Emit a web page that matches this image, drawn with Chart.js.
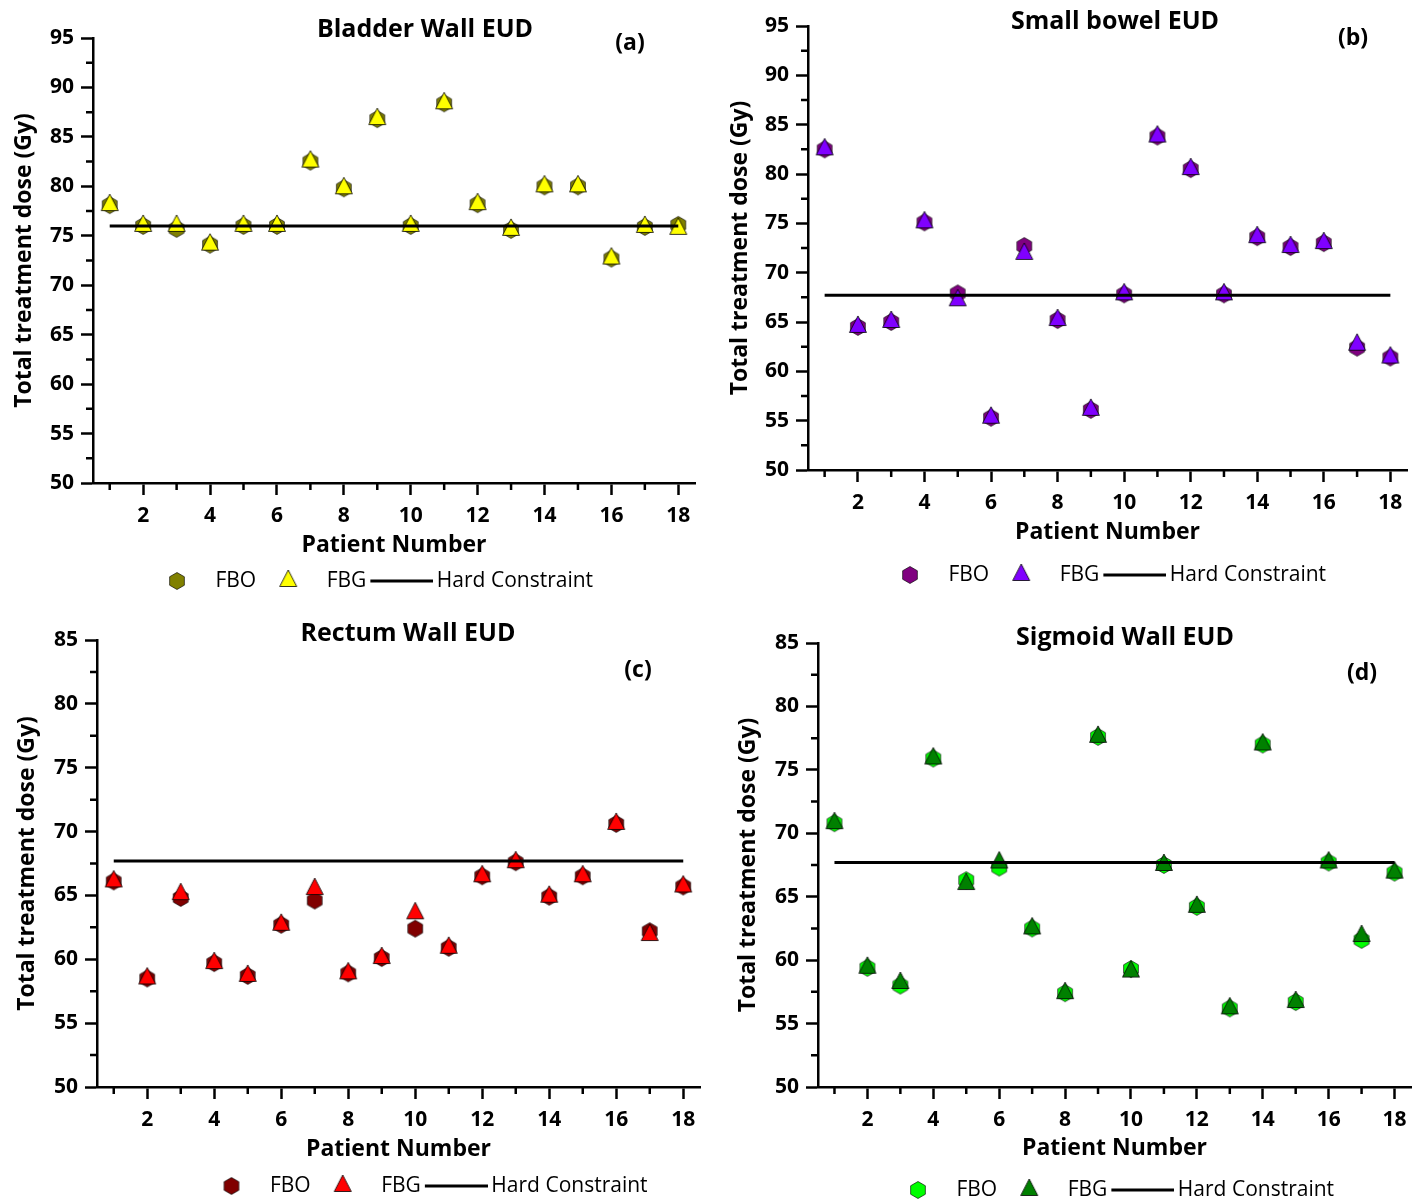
<!DOCTYPE html>
<html>
<head>
<meta charset="utf-8">
<title>EUD per patient</title>
<script src="https://cdn.jsdelivr.net/npm/chart.js@4"></script>
<style>
  html, body { margin: 0; padding: 0; background: #fff; overflow: hidden; width: 1421px; height: 1201px; }
  .panel { position: absolute; width: 710px; height: 620px; }
</style>
</head>
<body>
<div class="panel" style="left:0px;top:0px"><canvas id="chartA"></canvas></div>
<div class="panel" style="left:711px;top:0px"><canvas id="chartB"></canvas></div>
<div class="panel" style="left:0px;top:600px"><canvas id="chartC"></canvas></div>
<div class="panel" style="left:711px;top:600px"><canvas id="chartD"></canvas></div>
<script>
// data
var patients = [1, 2, 3, 4, 5, 6, 7, 8, 9, 10, 11, 12, 13, 14, 15, 16, 17, 18];
var xTickLabels = [2, 4, 6, 8, 10, 12, 14, 16, 18];
var yTicksTop = [50, 55, 60, 65, 70, 75, 80, 85, 90, 95];
var yTicksBottom = [50, 55, 60, 65, 70, 75, 80, 85];

var bladderFBO = [78.1, 76.0, 75.7, 74.1, 76.0, 76.0, 82.5, 79.8, 86.8, 76.0, 88.4, 78.2, 75.6, 80.0, 80.0, 72.7, 75.9, 76.1];
var bladderFBG = [78.1, 76.0, 76.0, 74.1, 76.0, 76.0, 82.5, 79.8, 86.8, 76.0, 88.4, 78.2, 75.6, 80.0, 80.0, 72.7, 75.9, 75.7];
var bladderLimit = 76;

var bowelFBO = [82.5, 64.5, 65.0, 75.1, 67.9, 55.3, 72.7, 65.2, 56.1, 67.8, 83.8, 80.5, 67.8, 73.6, 72.6, 73.0, 62.4, 61.4];
var bowelFBG = [82.5, 64.5, 65.0, 75.1, 67.2, 55.3, 71.9, 65.2, 56.1, 67.8, 83.8, 80.5, 67.8, 73.6, 72.6, 73.0, 62.7, 61.4];
var bowelLimit = 67.7;

var rectumFBO = [66.1, 58.5, 64.8, 59.7, 58.7, 62.7, 64.6, 58.9, 60.1, 62.4, 60.9, 66.5, 67.6, 64.9, 66.5, 70.6, 62.2, 65.7];
var rectumFBG = [66.1, 58.5, 65.1, 59.7, 58.7, 62.7, 65.5, 58.9, 60.1, 63.6, 60.9, 66.5, 67.6, 64.9, 66.5, 70.6, 61.9, 65.7];
var rectumLimit = 67.7;

var sigmoidFBO = [70.8, 59.4, 58.0, 75.9, 66.3, 67.3, 62.5, 57.4, 77.6, 59.3, 67.5, 64.2, 56.2, 77.0, 56.7, 67.7, 61.6, 66.9];
var sigmoidFBG = [70.8, 59.4, 58.2, 75.9, 66.0, 67.7, 62.5, 57.4, 77.6, 59.1, 67.5, 64.2, 56.2, 77.0, 56.7, 67.7, 61.9, 66.9];
var sigmoidLimit = 67.7;

var FONT = '"Open Sans", "Noto Sans", sans-serif';
Chart.defaults.font.family = FONT;
Chart.defaults.color = '#000';

// marker images
function hexagon(fill) {
  var c = document.createElement('canvas');
  c.width = 20; c.height = 20;
  var g = c.getContext('2d');
  g.beginPath();
  for (var i = 0; i < 6; i++) {
    var a = Math.PI / 3 * i;
    g.lineTo(10 + 8.5 * Math.sin(a), 10 - 8.5 * Math.cos(a));
  }
  g.closePath();
  g.fillStyle = fill; g.fill();
  g.strokeStyle = 'rgba(0,0,0,0.8)'; g.lineWidth = 0.8; g.stroke();
  return c;
}
function triangle(fill) {
  var c = document.createElement('canvas');
  c.width = 26; c.height = 26;
  var g = c.getContext('2d');
  g.beginPath();
  g.moveTo(13, 13 - 11);
  g.lineTo(13 + 8.5, 13 + 5.5);
  g.lineTo(13 - 8.5, 13 + 5.5);
  g.closePath();
  g.fillStyle = fill; g.fill();
  g.strokeStyle = '#000'; g.lineWidth = 0.8; g.stroke();
  return c;
}
function lineMark() {
  // legend swatch: transparent lead-in, then the black rule
  var c = document.createElement('canvas');
  c.width = 70; c.height = 4;
  var g = c.getContext('2d');
  g.fillStyle = '#000';
  g.fillRect(7, 0.5, 63, 3);
  return c;
}

var minorAndText = {
  id: 'panelText',
  afterLayout: function(chart, args, o) {
    // nudge the legend row to where the figure has it
    chart.legend.left += o.legendDx;
    chart.legend.right += o.legendDx;
  },
  afterDraw: function(chart, args, o) {
    var ctx = chart.ctx, a = chart.chartArea, xs = chart.scales.x, ys = chart.scales.y;
    ctx.save();
    ctx.strokeStyle = '#000';
    ctx.lineWidth = 2.5;
    ctx.beginPath();
    patients.forEach(function(p) {
      if (p % 2 === 1) {
        var px = xs.getPixelForValue(p);
        ctx.moveTo(px, a.bottom); ctx.lineTo(px, a.bottom + 7);
      }
    });
    for (var v = ys.min + 2.5; v < ys.max; v += 5) {
      var py = ys.getPixelForValue(v);
      ctx.moveTo(a.left, py); ctx.lineTo(a.left - 7, py);
    }
    ctx.stroke();
    ctx.fillStyle = '#000';
    ctx.textAlign = 'center';
    ctx.textBaseline = 'middle';
    ctx.font = 'bold 25px ' + FONT;
    ctx.fillText(o.title, o.titleX, o.titleY);
    ctx.font = 'bold 23px ' + FONT;
    ctx.fillText(o.letter, o.letterX, o.letterY);
    ctx.restore();
  }
};

function points(values) {
  return patients.map(function(p, i) { return {x: p, y: values[i]}; });
}

var LEGEND_PAD = 4, LEGEND_FONT = 21, AXIS_TITLE = 23, TICK_FONT = 21, PANEL_H = 620, PANEL_W = 710;

function makePanel(id, box, area, yTicks, fbo, fbg, limit, colors, texts) {
  var padLeft = texts.yTitleX - box.x - AXIS_TITLE * 1.2 / 2;
  var yWidth = area.l - box.x - padLeft;
  var xHeight = texts.legendY - (LEGEND_PAD + LEGEND_FONT / 2) - area.b;
  var xTitlePad = xHeight - texts.xTitleDy - AXIS_TITLE * 1.2 / 2;
  var legendH = LEGEND_FONT + LEGEND_PAD + 10;
  var padBottom = PANEL_H - (area.b - box.y) - xHeight - legendH;

  return new Chart(document.getElementById(id), {
    type: 'scatter',
    data: {
      datasets: [
        { label: 'FBO', data: points(fbo), pointStyle: hexagon(colors[0]), pointRadius: 9, order: 2 },
        { label: 'FBG', data: points(fbg), pointStyle: triangle(colors[1]), pointRadius: 9, order: 1 },
        { label: 'Hard Constraint', data: [{x: patients[0], y: limit}, {x: patients[patients.length - 1], y: limit}],
          showLine: true, borderColor: '#000', borderWidth: 3, pointRadius: 0, pointStyle: lineMark(), order: 0 }
      ]
    },
    options: {
      responsive: true,
      maintainAspectRatio: false,
      animation: false,
      events: [],
      clip: false,
      layout: { padding: { left: padLeft, top: area.t - box.y, right: box.x + PANEL_W - area.r, bottom: padBottom } },
      scales: {
        x: {
          type: 'linear', min: 0.5, max: 18.5,
          afterBuildTicks: function(ax) { ax.ticks = xTickLabels.map(function(v) { return {value: v}; }); },
          afterFit: function(s) { s.height = xHeight; },
          grid: { drawOnChartArea: false, tickLength: 12, tickWidth: 2.5, tickColor: '#000' },
          border: { color: '#000', width: 2.5 },
          ticks: { font: { size: TICK_FONT, weight: 'bold' }, color: '#000', padding: 8, maxRotation: 0, autoSkip: false },
          title: { display: true, text: 'Patient Number', font: { size: AXIS_TITLE, weight: 'bold' }, color: '#000',
                   padding: { top: 0, bottom: xTitlePad } }
        },
        y: {
          min: yTicks[0], max: yTicks[yTicks.length - 1],
          afterBuildTicks: function(ax) { ax.ticks = yTicks.map(function(v) { return {value: v}; }); },
          afterFit: function(s) { s.width = yWidth; },
          grid: { drawOnChartArea: false, tickLength: 12, tickWidth: 2.5, tickColor: '#000' },
          border: { color: '#000', width: 2.5 },
          ticks: { font: { size: TICK_FONT, weight: 'bold' }, color: '#000', padding: 7, autoSkip: false },
          title: { display: true, text: 'Total treatment dose (Gy)', font: { size: AXIS_TITLE, weight: 'bold' }, color: '#000',
                   padding: { top: 0, bottom: 0 } }
        }
      },
      plugins: {
        legend: {
          position: 'bottom', fullSize: false,
          labels: { usePointStyle: true, pointStyleWidth: 56, boxHeight: 14, padding: LEGEND_PAD,
                    font: { size: LEGEND_FONT }, color: '#000',
                    sort: function(a, b) { return a.datasetIndex - b.datasetIndex; } }
        },
        tooltip: { enabled: false },
        panelText: {
          title: texts.title, titleX: texts.titleX - box.x, titleY: texts.titleY - box.y,
          letter: texts.letter, letterX: texts.letterX - box.x, letterY: texts.letterY - box.y,
          legendDx: texts.legendX - (area.l + area.r) / 2
        }
      }
    },
    plugins: [minorAndText]
  });
}

makePanel('chartA', {x: 0, y: 0}, {l: 93, t: 38, r: 695, b: 483}, yTicksTop, bladderFBO, bladderFBG, bladderLimit,
  ['#808000', '#ffff00'],
  {title: 'Bladder Wall EUD', titleX: 425, titleY: 30, letter: '(a)', letterX: 630, letterY: 43,
   yTitleX: 24, xTitleDy: 62, legendY: 581, legendX: 371});

makePanel('chartB', {x: 711, y: 0}, {l: 808, t: 26, r: 1407, b: 470}, yTicksTop, bowelFBO, bowelFBG, bowelLimit,
  ['#800080', '#8000ff'],
  {title: 'Small bowel EUD', titleX: 1115, titleY: 22, letter: '(b)', letterX: 1353, letterY: 38,
   yTitleX: 740, xTitleDy: 62, legendY: 575, legendX: 1104});

makePanel('chartC', {x: 0, y: 600}, {l: 97, t: 640, r: 703, b: 1087}, yTicksBottom, rectumFBO, rectumFBG, rectumLimit,
  ['#800000', '#ff0000'],
  {title: 'Rectum Wall EUD', titleX: 408, titleY: 634, letter: '(c)', letterX: 638, letterY: 670,
   yTitleX: 27, xTitleDy: 62, legendY: 1186, legendX: 427});

makePanel('chartD', {x: 711, y: 600}, {l: 818, t: 643, r: 1417, b: 1087}, yTicksBottom, sigmoidFBO, sigmoidFBG, sigmoidLimit,
  ['#00ff00', '#008000'],
  {title: 'Sigmoid Wall EUD', titleX: 1125, titleY: 638, letter: '(d)', letterX: 1362, letterY: 673,
   yTitleX: 748, xTitleDy: 61, legendY: 1190, legendX: 1115});
</script>
</body>
</html>
